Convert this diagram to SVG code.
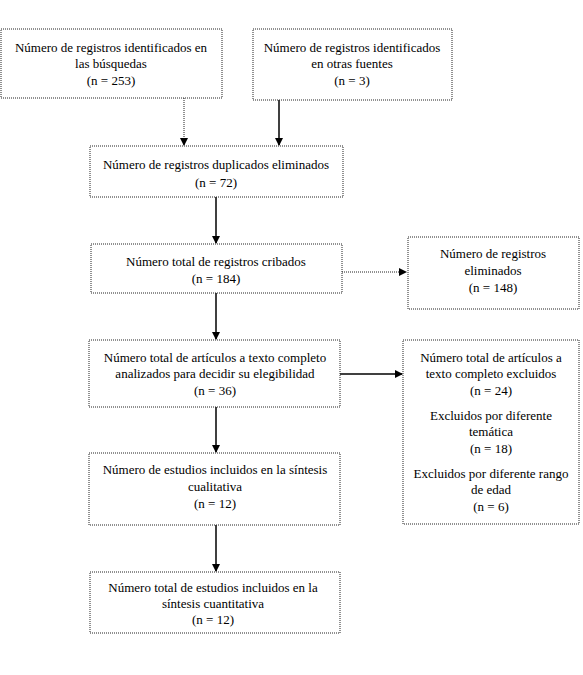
<svg xmlns="http://www.w3.org/2000/svg" width="583" height="675" viewBox="0 0 583 675">
<style>
.box{fill:#fff;stroke:#222;stroke-width:1;stroke-dasharray:1 1}
.t{font-family:'Liberation Serif','Times New Roman','DejaVu Serif',serif;font-size:13px;fill:#000;text-anchor:middle}
.c{stroke:#000;stroke-width:1.5;fill:none}
.d{stroke:#222;stroke-width:1;fill:none;stroke-dasharray:1 1}
</style>
<defs>
<marker id="ah" markerWidth="8" markerHeight="8" refX="7" refY="4" orient="auto" markerUnits="userSpaceOnUse">
<path d="M0,0 L8,4 L0,8 Z" fill="#000"/>
</marker>
</defs>
<rect width="583" height="675" fill="#fff"/>
<g id="connectors">
<line class="d" x1="184" y1="98" x2="184" y2="145" marker-end="url(#ah)"/>
<line class="c" x1="279" y1="100" x2="279" y2="145" marker-end="url(#ah)"/>
<line class="c" x1="216" y1="197" x2="216" y2="243" marker-end="url(#ah)"/>
<line class="d" x1="342" y1="272" x2="406" y2="272" marker-end="url(#ah)"/>
<line class="c" x1="216" y1="293" x2="216" y2="339" marker-end="url(#ah)"/>
<line class="c" x1="340" y1="374" x2="402" y2="374" marker-end="url(#ah)"/>
<line class="c" x1="216" y1="407" x2="216" y2="452" marker-end="url(#ah)"/>
<line class="c" x1="216" y1="525" x2="216" y2="571" marker-end="url(#ah)"/>
</g>
<g id="n1">
<rect class="box" x="1" y="29" width="221" height="69"/>
<text class="t" x="111" y="52">Número de registros identificados en</text>
<text class="t" x="111" y="68">las búsquedas</text>
<text class="t" x="111" y="85">(n = 253)</text>
</g>
<g id="n2">
<rect class="box" x="253" y="29" width="199" height="71"/>
<text class="t" x="352" y="52">Número de registros identificados</text>
<text class="t" x="352" y="68">en otras fuentes</text>
<text class="t" x="352" y="85">(n = 3)</text>
</g>
<g id="n3">
<rect class="box" x="90" y="146" width="253" height="51"/>
<text class="t" x="216" y="169">Número de registros duplicados eliminados</text>
<text class="t" x="216" y="187">(n = 72)</text>
</g>
<g id="n4">
<rect class="box" x="91" y="244" width="251" height="49"/>
<text class="t" x="216" y="266">Número total de registros cribados</text>
<text class="t" x="216" y="283">(n = 184)</text>
</g>
<g id="n5">
<rect class="box" x="408" y="237" width="171" height="72"/>
<text class="t" x="493" y="258">Número de registros</text>
<text class="t" x="493" y="275">eliminados</text>
<text class="t" x="493" y="292">(n = 148)</text>
</g>
<g id="n6">
<rect class="box" x="89" y="340" width="251" height="67"/>
<text class="t" x="215" y="362">Número total de artículos a texto completo</text>
<text class="t" x="215" y="378">analizados para decidir su elegibilidad</text>
<text class="t" x="215" y="395">(n = 36)</text>
</g>
<g id="n7">
<rect class="box" x="403" y="340" width="176" height="184"/>
<text class="t" x="491" y="362">Número total de artículos a</text>
<text class="t" x="491" y="378">texto completo excluidos</text>
<text class="t" x="491" y="395">(n = 24)</text>
<text class="t" x="491" y="420">Excluidos por diferente</text>
<text class="t" x="491" y="436">temática</text>
<text class="t" x="491" y="453">(n = 18)</text>
<text class="t" x="491" y="478">Excluidos por diferente rango</text>
<text class="t" x="491" y="494">de edad</text>
<text class="t" x="491" y="511">(n = 6)</text>
</g>
<g id="n8">
<rect class="box" x="89" y="453" width="251" height="72"/>
<text class="t" x="215" y="474">Número de estudios incluidos en la síntesis</text>
<text class="t" x="215" y="491">cualitativa</text>
<text class="t" x="215" y="508">(n = 12)</text>
</g>
<g id="n9">
<rect class="box" x="90" y="572" width="250" height="61"/>
<text class="t" x="213" y="592">Número total de estudios incluidos en la</text>
<text class="t" x="213" y="608">síntesis cuantitativa</text>
<text class="t" x="213" y="624">(n = 12)</text>
</g>
</svg>
